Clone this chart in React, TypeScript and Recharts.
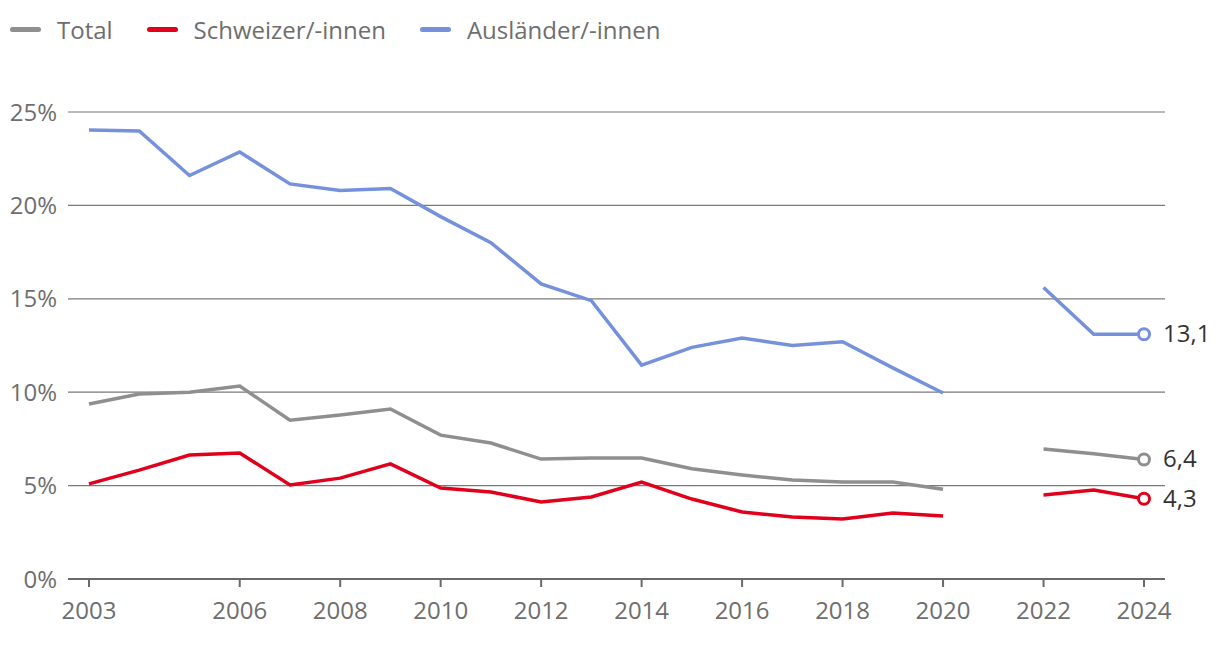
import React from 'react';
import { LineChart, Line, XAxis, YAxis, CartesianGrid } from 'recharts';

const years = [2003, 2004, 2005, 2006, 2007, 2008, 2009, 2010, 2011, 2012, 2013, 2014, 2015, 2016, 2017, 2018, 2019, 2020, 2021, 2022, 2023, 2024];
const total: (number | null)[] = [9.37, 9.9, 10.0, 10.33, 8.5, 8.78, 9.1, 7.7, 7.28, 6.42, 6.48, 6.48, 5.9, 5.57, 5.3, 5.19, 5.19, 4.8, null, 6.96, 6.7, 6.4];
const schweizer: (number | null)[] = [5.09, 5.83, 6.64, 6.75, 5.03, 5.4, 6.16, 4.87, 4.66, 4.12, 4.39, 5.19, 4.28, 3.59, 3.32, 3.21, 3.53, 3.37, null, 4.5, 4.76, 4.3];
const auslaender: (number | null)[] = [24.04, 23.98, 21.6, 22.86, 21.15, 20.8, 20.9, 19.4, 18.0, 15.8, 14.9, 11.45, 12.4, 12.9, 12.5, 12.7, 11.3, 9.96, null, 15.6, 13.1, 13.1];
const xTicks = [2003, 2006, 2008, 2010, 2012, 2014, 2016, 2018, 2020, 2022, 2024];
const yTicks = [0, 5, 10, 15, 20, 25];

const seriesNames = ['Total', 'Schweizer/-innen', 'Ausländer/-innen'];
const seriesKeys = ['total', 'schweizer', 'auslaender'];
const seriesColors = ['#8f8f8f', '#e0001b', '#7591db'];

const data = years.map((y, i) => ({ year: y, total: total[i], schweizer: schweizer[i], auslaender: auslaender[i] }));

const FONT = '"Open Sans", sans-serif';
const last = years.length - 1;

const makeDot = (color: string) => (props: any) => {
  const { cx, cy, index } = props;
  if (index !== last || cy == null) return <g key={`d${index}`} />;
  return <circle key={`d${index}`} cx={cx} cy={cy} r={5.5} fill="#fff" stroke={color} strokeWidth={3} />;
};

const makeLabel = () => (props: any) => {
  const { x, y, index, value } = props;
  if (index !== last || value == null) return <g key={`l${index}`} />;
  return (
    <text key={`l${index}`} x={x + 19} y={y} dy={8} fontSize={24} fill="#333" fontFamily={FONT}>
      {String(value).replace('.', ',')}
    </text>
  );
};

export default function App() {
  return (
    <div style={{ position: 'absolute', left: 0, top: 0, width: 1220, height: 646, background: '#fff', fontFamily: FONT }}>
      <div style={{ position: 'absolute', left: 10, top: 13, display: 'flex', alignItems: 'center', fontSize: 24, color: '#6e6e6e', whiteSpace: 'nowrap' }}>
        {seriesNames.map((n, i) => (
          <div key={n} style={{ display: 'flex', alignItems: 'center', marginRight: 34 }}>
            <div style={{ width: 31, height: 5, borderRadius: 2.5, background: seriesColors[i], marginRight: 16 }} />
            <span>{n}</span>
          </div>
        ))}
      </div>
      <LineChart width={1220} height={646} data={data} margin={{ top: 112, right: 55, bottom: 27, left: 8 }}>
        <CartesianGrid vertical={false} stroke="#7a7a7a" strokeWidth={1.2} />
        <XAxis
          dataKey="year"
          type="number"
          domain={[2002.582, 2024.418]}
          ticks={xTicks}
          interval={0}
          height={40}
          axisLine={{ stroke: '#6a6a6a', strokeWidth: 2 }}
          tickLine={{ stroke: '#6a6a6a', strokeWidth: 2 }}
          tickSize={8}
          tickMargin={15}
          tick={{ fontSize: 24, fill: '#6e6e6e', fontFamily: FONT }}
        />
        <YAxis
          type="number"
          domain={[0, 25]}
          ticks={yTicks}
          width={60}
          axisLine={false}
          tickLine={false}
          tickMargin={5}
          tickFormatter={(v: number) => `${v}%`}
          tick={{ fontSize: 24, fill: '#6e6e6e', fontFamily: FONT }}
        />
        {seriesKeys.map((k, i) => (
          <Line
            key={k}
            dataKey={k}
            type="linear"
            stroke={seriesColors[i]}
            strokeWidth={3.5}
            connectNulls={false}
            isAnimationActive={false}
            dot={makeDot(seriesColors[i])}
            activeDot={false}
            label={makeLabel()}
          />
        ))}
      </LineChart>
    </div>
  );
}
